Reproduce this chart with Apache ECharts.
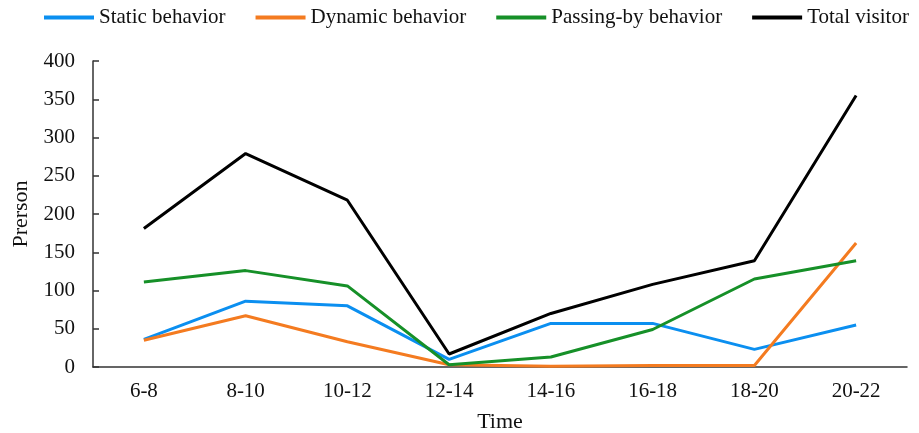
<!DOCTYPE html>
<html>
<head>
<meta charset="utf-8">
<script src="https://cdn.jsdelivr.net/npm/echarts@6/dist/echarts.min.js"></script>
<style>
html,body{margin:0;padding:0;background:#fff;}
#chart{width:919px;height:433px;}
</style>
</head>
<body>
<div id="chart"></div>
<script>
const categories = ['6-8','8-10','10-12','12-14','14-16','16-18','18-20','20-22'];
const staticBehavior = [36, 86, 80, 10, 57, 57, 23, 55];
const dynamicBehavior = [35, 67, 33, 3, 1, 2, 2, 162];
const passingBehavior = [111, 126, 106, 3, 13, 49, 115, 139];
const totalVisitor = [181, 279, 218, 17, 70, 108, 139, 355];
const seriesNames = ['Static behavior','Dynamic behavior','Passing-by behavior','Total visitor'];
const seriesColors = ['#0b8ff0','#f47b20','#169028','#000000'];
const seriesValues = [staticBehavior, dynamicBehavior, passingBehavior, totalVisitor];

const font = 'Liberation Serif';
const chart = echarts.init(document.getElementById('chart'), null, {renderer:'canvas'});
chart.setOption({
  animation: false,
  backgroundColor: '#fff',
  textStyle: {fontFamily: font},
  legend: {
    left: 44, top: 7, width: 875,
    icon: 'rect',
    itemWidth: 50, itemHeight: 4,
    itemGap: 30,
    padding: 0,
    textStyle: {fontFamily: font, fontSize: 21, color: '#111'},
    data: seriesNames
  },
  grid: {left: 93, right: 12, top: 61, bottom: 66, containLabel: false, outerBoundsMode: 'none'},
  xAxis: {
    type: 'category',
    data: categories,
    boundaryGap: true,
    name: 'Time',
    nameLocation: 'middle',
    nameGap: 44,
    nameTextStyle: {fontFamily: font, fontSize: 22, color: '#111'},
    axisLine: {lineStyle: {color: '#333', width: 1.5}},
    axisTick: {inside: true, length: 6, alignWithLabel: false, lineStyle: {color: '#333', width: 1.5}},
    axisLabel: {fontFamily: font, fontSize: 21, color: '#111', margin: 14}
  },
  yAxis: {
    type: 'value',
    min: 0, max: 400, interval: 50,
    name: 'Prerson',
    nameLocation: 'middle',
    nameGap: 60,
    nameTextStyle: {fontFamily: font, fontSize: 22, color: '#111'},
    axisLine: {show: true, lineStyle: {color: '#333', width: 1.5}},
    axisTick: {show: true, inside: true, length: 6, lineStyle: {color: '#333', width: 1.5}},
    axisLabel: {fontFamily: font, fontSize: 21, color: '#111', margin: 18},
    splitLine: {show: false}
  },
  series: seriesNames.map((n, i) => ({
    name: n,
    type: 'line',
    data: seriesValues[i],
    symbol: 'none',
    lineStyle: {color: seriesColors[i], width: 3},
    itemStyle: {color: seriesColors[i]},
    z: i === 3 ? 5 : 2
  }))
});
</script>
</body>
</html>
